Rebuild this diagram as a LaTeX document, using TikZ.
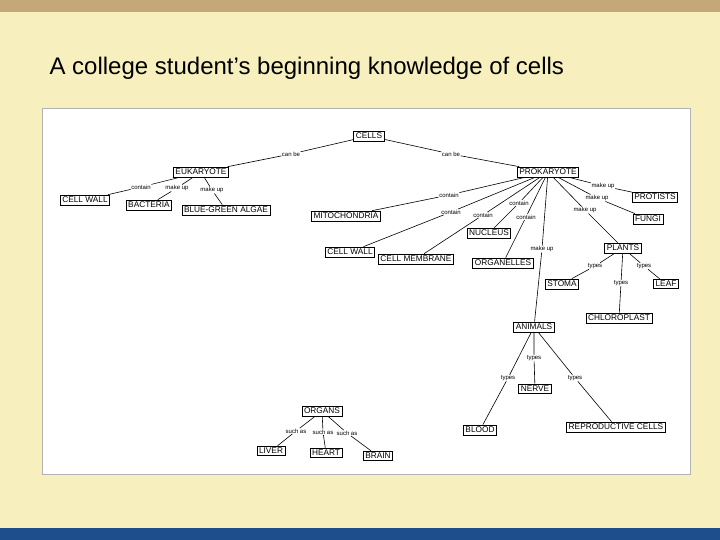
\documentclass[tikz,border=0pt]{standalone}
\usepackage{fontspec}
\setmainfont{Liberation Sans}
\definecolor{bg}{HTML}{F7F0BE}
\definecolor{topbar}{HTML}{C4A878}
\definecolor{botbar}{HTML}{1F4E8C}
\begin{document}
\begin{tikzpicture}[x=1pt,y=-1pt,
 box/.style={draw,line width=0.8pt,inner sep=2pt,font=\fontsize{8.3}{9}\selectfont,fill=white},
 lab/.style={inner sep=0.5pt,font=\fontsize{6}{7}\selectfont,fill=white},
 ln/.style={line width=0.6pt}]
\fill[bg] (0,0) rectangle (720,540);
\useasboundingbox (0,0) rectangle (720,540);
\fill[topbar] (0,0) rectangle (720,12);
\fill[botbar] (0,528) rectangle (720,540);
\fill[white] (42,108) rectangle (690,474);
\draw[gray!60] (42,108) rectangle (690,474);
\node[anchor=west,font=\fontsize{24}{28}\selectfont] (title) at (46,68) {A college student’s beginning knowledge of cells};
% nodes
\node[box] (cells) at (369,136) {CELLS};
\node[box] (euk) at (201,172) {EUKARYOTE};
\node[box] (pro) at (548,172) {PROKARYOTE};
\node[box] (cw1) at (85,200) {CELL WALL};
\node[box] (bac) at (149,205) {BACTERIA};
\node[box] (bga) at (226,210) {BLUE-GREEN ALGAE};
\node[box] (mit) at (346,216) {MITOCHONDRIA};
\node[box] (cw2) at (350,252) {CELL WALL};
\node[box] (cm) at (416,259) {CELL MEMBRANE};
\node[box] (nuc) at (489,233) {NUCLEUS};
\node[box] (org) at (503,263) {ORGANELLES};
\node[box] (prot) at (655,197) {PROTISTS};
\node[box] (fun) at (648,219) {FUNGI};
\node[box] (pla) at (623,248) {PLANTS};
\node[box] (sto) at (562,284) {STOMA};
\node[box] (leaf) at (666,284) {LEAF};
\node[box] (chl) at (619,318) {CHLOROPLAST};
\node[box] (ani) at (534,327) {ANIMALS};
\node[box] (ner) at (535,389) {NERVE};
\node[box] (blo) at (480,430) {BLOOD};
\node[box] (rep) at (616,427) {REPRODUCTIVE CELLS};
\node[box] (orgs) at (322,411) {ORGANS};
\node[box] (liv) at (271,451) {LIVER};
\node[box] (hea) at (326,453) {HEART};
\node[box] (bra) at (378,456) {BRAIN};
% labels
\node[lab] (l1) at (291,154) {can be};
\node[lab] (l2) at (451,154) {can be};
\node[lab] (l3) at (141,187) {contain};
\node[lab] (l4) at (177,188) {make up};
\node[lab] (l5) at (212,190) {make up};
\node[lab] (l6) at (449,195) {contain};
\node[lab] (l7) at (451,212) {contain};
\node[lab] (l8) at (483,215) {contain};
\node[lab] (l9) at (519,203) {contain};
\node[lab] (l10) at (526,217) {contain};
\node[lab] (l11) at (603,186) {make up};
\node[lab] (l12) at (597,198) {make up};
\node[lab] (l13) at (585,210) {make up};
\node[lab] (l14) at (542,249) {make up};
\node[lab] (l15) at (595,266) {types};
\node[lab] (l16) at (644,266) {types};
\node[lab] (l17) at (621,283) {types};
\node[lab] (l18) at (534,358) {types};
\node[lab] (l19) at (508,378) {types};
\node[lab] (l20) at (575,378) {types};
\node[lab] (l21) at (296,431) {such as};
\node[lab] (l22) at (323,432) {such as};
\node[lab] (l23) at (347,433) {such as};
% connectors
\draw[ln] (cells) -- (l1) -- (euk);
\draw[ln] (cells) -- (l2) -- (pro);
\draw[ln] (euk) -- (l3) -- (cw1);
\draw[ln] (euk) -- (l4) -- (bac);
\draw[ln] (euk) -- (l5) -- (bga);
\draw[ln] (pro) -- (l6) -- (mit);
\draw[ln] (pro) -- (l7) -- (cw2);
\draw[ln] (pro) -- (l8) -- (cm);
\draw[ln] (pro) -- (l9) -- (nuc);
\draw[ln] (pro) -- (l10) -- (org);
\draw[ln] (pro) -- (l11) -- (prot);
\draw[ln] (pro) -- (l12) -- (fun);
\draw[ln] (pro) -- (l13) -- (pla);
\draw[ln] (pro) -- (l14) -- (ani);
\draw[ln] (pla) -- (l15) -- (sto);
\draw[ln] (pla) -- (l16) -- (leaf);
\draw[ln] (pla) -- (l17) -- (chl);
\draw[ln] (ani) -- (l18) -- (ner);
\draw[ln] (ani) -- (l19) -- (blo);
\draw[ln] (ani) -- (l20) -- (rep);
\draw[ln] (orgs) -- (l21) -- (liv);
\draw[ln] (orgs) -- (l22) -- (hea);
\draw[ln] (orgs) -- (l23) -- (bra);
\end{tikzpicture}
\end{document}
